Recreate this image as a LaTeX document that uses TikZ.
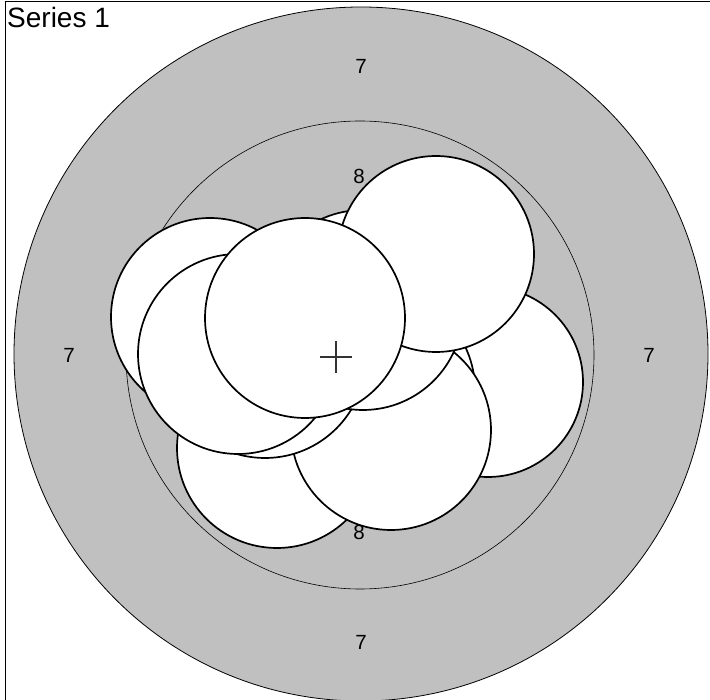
\documentclass[tikz,border=0pt]{standalone}
\usepackage{fontspec}
\setmainfont{Liberation Sans}
\definecolor{ringgray}{RGB}{192,192,192}
\definecolor{crossgray}{RGB}{51,51,51}
\begin{document}
\begin{tikzpicture}[x=1pt,y=-1pt,
  disc/.style={draw=black,line width=1.7pt,fill=white},
  numlbl/.style={font=\fontsize{20.5}{20.5}\selectfont,inner sep=0pt,anchor=center},
  titlelbl/.style={font=\fontsize{28}{28}\selectfont,inner sep=0pt,anchor=base west}]
\useasboundingbox (0,0) rectangle (710,700);
% outer gray disc and inner ring
\fill[ringgray,draw=black,line width=0.8pt] (361,354) circle[radius=347pt];
\draw[line width=0.6pt] (360,355) circle[radius=234pt];
% ring labels
\node[numlbl] (t7) at (361,66) {7};
\node[numlbl] (l7) at (69,355) {7};
\node[numlbl] (r7) at (649,355) {7};
\node[numlbl] (b7) at (361,642) {7};
\node[numlbl] (t8) at (359,176) {8};
\node[numlbl] (b8) at (359,532) {8};
% white discs, back to front
\draw[disc] (210,317) circle[radius=99pt];
\draw[disc] (277,448) circle[radius=100pt];
\draw[disc] (488,382) circle[radius=95pt];
\draw[disc] (375,390) circle[radius=100pt];
\draw[disc] (391,430) circle[radius=100pt];
\draw[disc] (265,357) circle[radius=101pt];
\draw[disc] (238,354) circle[radius=100pt];
\draw[disc] (363,310) circle[radius=100pt];
\draw[disc] (436,254) circle[radius=98pt];
\draw[disc] (305,318) circle[radius=100pt];
% centre cross
\coordinate (cc) at (336,357);
\draw[crossgray,line width=1.3pt] ([xshift=-16pt]cc) -- ([xshift=16pt]cc);
\draw[crossgray,line width=1.3pt] ([yshift=-16pt]cc) -- ([yshift=16pt]cc);
% title and frame
\node[titlelbl] (title) at (7,28) {Series 1};
\draw[line width=1.5pt] (5.5,700) -- (5.5,1.5) -- (710,1.5);
\end{tikzpicture}
\end{document}
